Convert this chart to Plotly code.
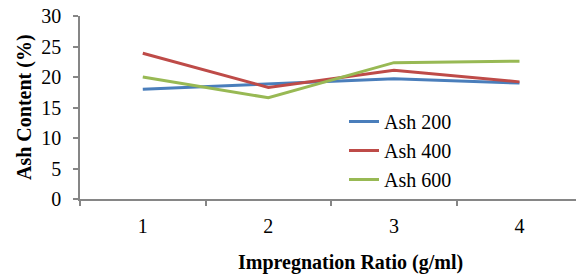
import plotly.graph_objects as go

categories = [1, 2, 3, 4]
ash_200 = [18.0, 18.9, 19.7, 19.0]
ash_400 = [23.9, 18.3, 21.1, 19.2]
ash_600 = [20.0, 16.6, 22.35, 22.6]
y_ticks = [0, 5, 10, 15, 20, 25, 30]

series = [("Ash 200", ash_200, "#4A7EBB"),
          ("Ash 400", ash_400, "#BE4B48"),
          ("Ash 600", ash_600, "#98B954")]

fig = go.Figure()
for name, vals, col in series:
    fig.add_trace(go.Scatter(x=categories, y=vals, mode="lines", name=name,
                             line=dict(color=col, width=3)))

serif = "Liberation Serif, Times New Roman, serif"
axis_col = "#868686"
L, R, T, B = 80, 576, 16, 199
W, H = R - L, B - T

fig.update_layout(
    width=576, height=277,
    margin=dict(l=L, r=576 - R, t=T, b=277 - B, autoexpand=False),
    paper_bgcolor="white", plot_bgcolor="white",
    font=dict(family=serif, size=20, color="black"),
    showlegend=True,
    legend=dict(x=(344 - L) / W, y=(B - 102) / H, xanchor="left", yanchor="top",
                bgcolor="rgba(0,0,0,0)", font=dict(size=20, family=serif),
                tracegroupgap=0),
    xaxis=dict(range=[0.5, 4.45], tickvals=categories,
               ticktext=[str(c) for c in categories],
               showgrid=False, zeroline=False, showline=True, automargin=False,
               linecolor=axis_col, linewidth=1.5, ticks="",
               ticklabelstandoff=8,
               minor=dict(ticks="outside", tick0=0.5, dtick=1, ticklen=5,
                          tickcolor=axis_col, tickwidth=1.5, showgrid=False),
               tickfont=dict(size=20, family=serif)),
    yaxis=dict(range=[0, 30], tickvals=y_ticks,
               showgrid=False, zeroline=False, showline=True, automargin=False,
               linecolor=axis_col, linewidth=1.5, ticks="outside",
               ticklen=5, tickcolor=axis_col, tickwidth=1.5,
               ticklabelstandoff=8,
               tickfont=dict(size=20, family=serif)),
)

fig.add_annotation(text="<b>Impregnation Ratio (g/ml)</b>", xref="paper", yref="paper",
                   x=(350 - L) / W, y=-(262 - B) / H, xanchor="center", yanchor="middle",
                   showarrow=False, font=dict(size=20, family=serif))
fig.add_annotation(text="<b>Ash Content (%)</b>", xref="paper", yref="paper",
                   x=(24 - L) / W, y=(B - 107) / H, xanchor="center", yanchor="middle",
                   textangle=-90, showarrow=False, font=dict(size=20, family=serif))

fig.write_html("out.html", config={"displayModeBar": False},
               post_script="document.body.style.margin='0';document.body.style.padding='0';")
